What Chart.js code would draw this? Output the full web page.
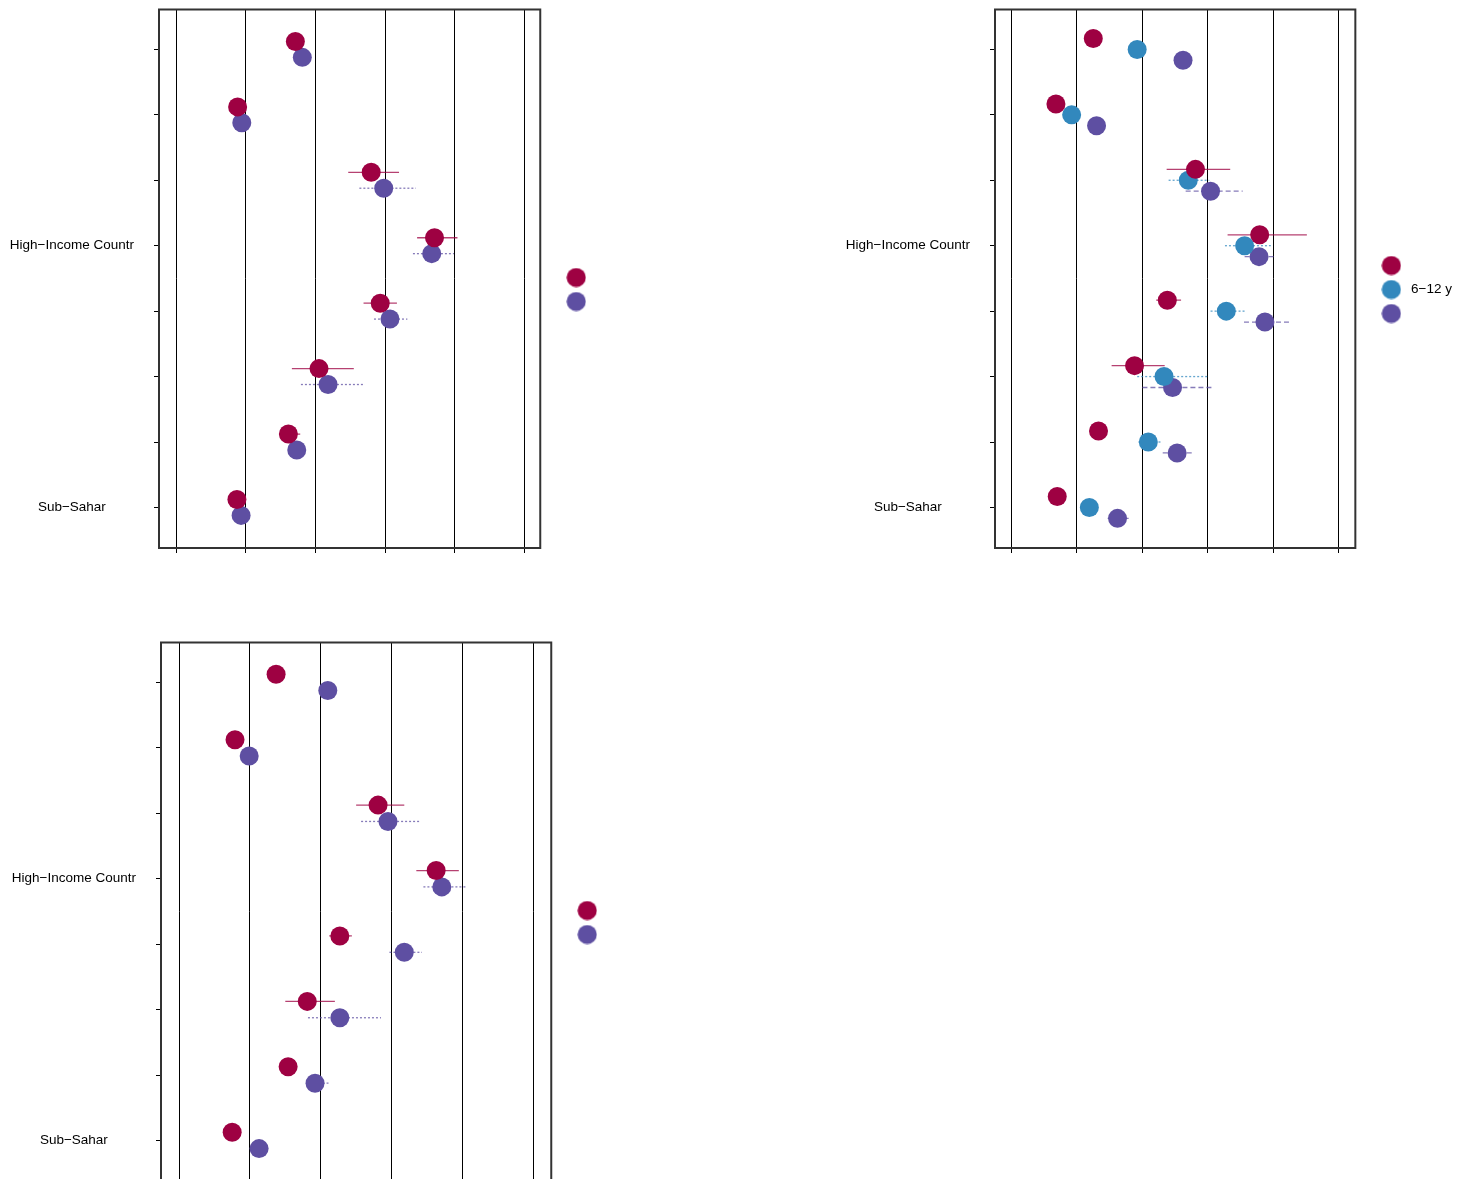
<!DOCTYPE html>
<html>
<head>
<meta charset="utf-8">
<script src="https://cdn.jsdelivr.net/npm/chart.js@4.4.1/dist/chart.umd.min.js"></script>
<style>
  html, body { margin: 0; background: #fff; overflow: hidden; }
  canvas { position: absolute; }
</style>
</head>
<body>
<canvas id="panelA" width="606" height="572" style="left:0;top:0"></canvas>
<canvas id="panelB" width="626" height="572" style="left:836px;top:0"></canvas>
<canvas id="panelC" width="615" height="572" style="left:2px;top:633px"></canvas>
<script>
// ======== DADOS ===========
const rowLabels = ['', '', '', 'High−Income Countr', '', '', '', 'Sub−Sahar'];

// painel superior esquerdo
const aNames = ['', ''];
const aRed = [17.1, 8.8, 28.0, 37.1, 29.3, 20.5, 16.1, 8.7];
const aRedLo = [null, null, 24.7, 34.6, 26.9, 16.6, 15.4, null];
const aRedHi = [null, null, 32.0, 40.4, 31.7, 25.5, 17.8, null];
const aPurple = [18.1, 9.4, 29.8, 36.7, 30.7, 21.8, 17.3, 9.3];
const aPurpleLo = [null, null, 26.3, 34.0, 28.4, 17.9, null, null];
const aPurpleHi = [null, null, 34.4, 39.9, 33.2, 27.1, null, null];

// painel superior direito
const bNames = ['', '6−12 y', ''];
const bRed = [12.5, 6.8, 28.1, 37.9, 23.8, 18.8, 13.3, 7.0];
const bRedLo = [null, null, 23.7, 33.0, 22.1, 15.3, null, null];
const bRedHi = [null, null, 33.4, 45.1, 25.9, 23.4, null, null];
const bBlue = [19.2, 9.2, 27.0, 35.6, 32.8, 23.3, 20.9, 11.9];
const bBlueLo = [null, null, 24.0, 32.6, 30.4, 19.2, 19.4, null];
const bBlueHi = [null, null, 30.2, 39.6, 35.7, 30.0, 23.0, null];
const bPurple = [26.2, 13.0, 30.4, 37.8, 38.7, 24.6, 25.3, 16.2];
const bPurpleLo = [null, null, 26.6, 35.6, 35.5, 20.0, 23.1, 14.7];
const bPurpleHi = [null, null, 35.3, 40.4, 42.4, 30.7, 27.7, 17.9];

// painel inferior
const cNames = ['', ''];
const cRed = [13.7, 7.9, 28.1, 36.3, 22.7, 18.1, 15.4, 7.5];
const cRedLo = [null, null, 25.0, 33.5, 21.2, 15.0, null, null];
const cRedHi = [null, null, 31.8, 39.5, 24.4, 22.0, null, null];
const cPurple = [21.0, 9.9, 29.5, 37.1, 31.8, 22.7, 19.2, 11.3];
const cPurpleLo = [null, null, 25.7, 34.5, 29.7, 18.2, 18.0, null];
const cPurpleHi = [null, null, 34.1, 40.5, 34.3, 28.5, 21.1, null];

const red = '#9E0142', blue = '#3288BD', purple = '#5E4FA2';
const redLine = 'rgba(158,1,66,0.75)', blueLine = 'rgba(50,136,189,0.75)', purpleLine = 'rgba(94,79,162,0.75)';
const solid = [], dotted = [2, 2], dashed = [5, 3];

Chart.defaults.font.family = "'Liberation Sans', Arial, sans-serif";
Chart.defaults.font.size = 13.5;
Chart.defaults.color = '#000';

// bolinha da legenda
function dotImage(color) {
  const c = document.createElement('canvas');
  c.width = c.height = 20;
  const g = c.getContext('2d');
  g.fillStyle = color;
  g.beginPath();
  g.arc(10, 10, 9.6, 0, Math.PI * 2);
  g.fill();
  return c;
}

// moldura em volta da área do gráfico
const frame = {
  id: 'frame',
  afterDraw(chart) {
    const { ctx, chartArea: a } = chart;
    ctx.save();
    ctx.strokeStyle = '#333';
    ctx.lineWidth = 2;
    ctx.strokeRect(a.left, a.top, a.right - a.left, a.bottom - a.top);
    ctx.restore();
  }
};

function dotPlot(id, series, xMin, xMax, dodge) {
  const datasets = [];
  series.forEach((s, i) => {
    const shift = (i - (series.length - 1) / 2) * dodge;
    datasets.push({
      label: s.name,
      data: s.values.map((v, r) => ({ x: v, y: r + 1 + shift })),
      backgroundColor: s.color,
      borderWidth: 0,
      pointRadius: 9.5,
      pointHoverRadius: 9.5,
      order: 1
    });
    s.lo.forEach((lo, r) => {
      if (lo == null) return;
      datasets.push({
        data: [{ x: lo, y: r + 1 + shift }, { x: s.hi[r], y: r + 1 + shift }],
        showLine: true,
        borderColor: s.line,
        borderWidth: 1.3,
        borderDash: s.dash,
        pointRadius: 0,
        pointHoverRadius: 0,
        order: 2
      });
    });
  });

  new Chart(document.getElementById(id), {
    type: 'scatter',
    data: { datasets },
    plugins: [frame],
    options: {
      responsive: false,
      animation: false,
      layout: { padding: { top: 7, left: 0, right: 0, bottom: 0 } },
      plugins: {
        tooltip: { enabled: false },
        legend: {
          position: 'right',
          onClick: null,
          labels: {
            usePointStyle: true,
            pointStyleWidth: 26,
            padding: 10.5,
            font: { size: 13.5 },
            color: '#000',
            generateLabels: () => series.map(s => ({
              text: s.name,
              pointStyle: dotImage(s.color),
              fillStyle: s.color,
              strokeStyle: s.color,
              lineWidth: 0,
              fontColor: '#000',
              hidden: false
            }))
          }
        }
      },
      scales: {
        x: {
          type: 'linear',
          position: 'bottom',
          min: xMin,
          max: xMax,
          afterFit: s => { s.height = 24; s.paddingLeft = 0; s.paddingRight = 0; },
          ticks: { display: false, stepSize: 10, includeBounds: false },
          grid: { color: '#000', lineWidth: 1, tickLength: 5, drawTicks: true },
          border: { display: false }
        },
        y: {
          type: 'linear',
          position: 'left',
          reverse: true,
          min: 0.39,
          max: 8.62,
          afterFit: s => { s.width = 159; s.paddingTop = 0; s.paddingBottom = 0; },
          ticks: {
            stepSize: 1,
            includeBounds: false,
            autoSkip: false,
            padding: 20,
            crossAlign: 'center',
            callback: v => rowLabels[v - 1] ?? ''
          },
          grid: { drawOnChartArea: false, color: '#000', tickLength: 5 },
          border: { display: false }
        },
        pad: {
          type: 'linear',
          position: 'right',
          afterFit: s => { s.width = 12.5; s.paddingTop = 0; s.paddingBottom = 0; },
          ticks: { display: false },
          grid: { display: false },
          border: { display: false }
        }
      }
    }
  });
}

dotPlot('panelA', [
  { name: aNames[0], values: aRed, lo: aRedLo, hi: aRedHi, color: red, line: redLine, dash: solid },
  { name: aNames[1], values: aPurple, lo: aPurpleLo, hi: aPurpleHi, color: purple, line: purpleLine, dash: dotted }
], -2.5, 52.3, 0.243);

dotPlot('panelB', [
  { name: bNames[0], values: bRed, lo: bRedLo, hi: bRedHi, color: red, line: redLine, dash: solid },
  { name: bNames[1], values: bBlue, lo: bBlueLo, hi: bBlueHi, color: blue, line: blueLine, dash: dotted },
  { name: bNames[2], values: bPurple, lo: bPurpleLo, hi: bPurpleHi, color: purple, line: purpleLine, dash: dashed }
], -2.5, 52.5, 0.167);

dotPlot('panelC', [
  { name: cNames[0], values: cRed, lo: cRedLo, hi: cRedHi, color: red, line: redLine, dash: solid },
  { name: cNames[1], values: cPurple, lo: cPurpleLo, hi: cPurpleHi, color: purple, line: purpleLine, dash: dotted }
], -2.55, 52.55, 0.25);
</script>
</body>
</html>
